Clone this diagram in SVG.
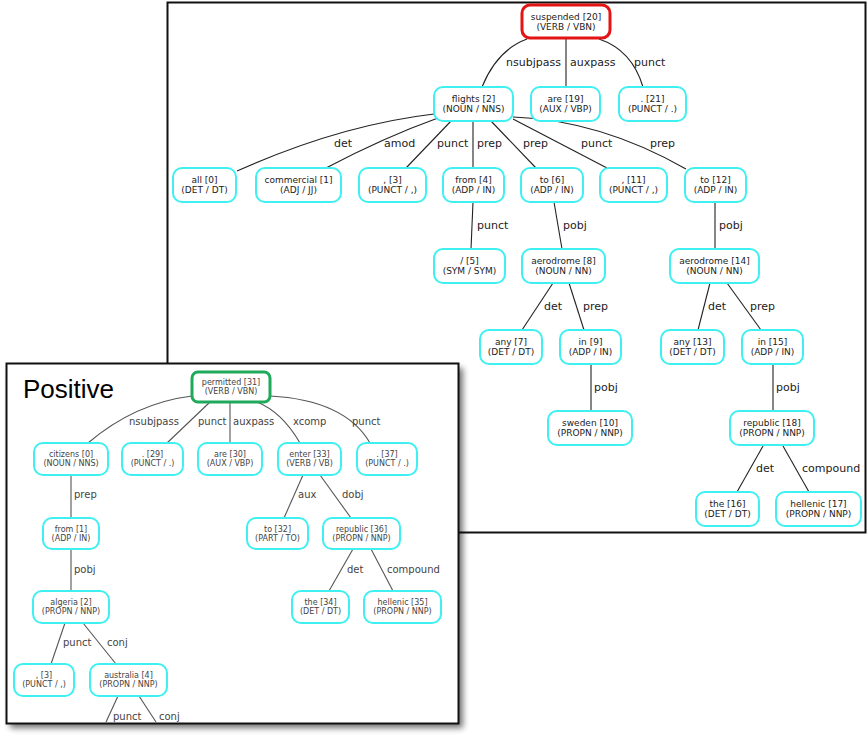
<svg xmlns="http://www.w3.org/2000/svg" width="868" height="741" viewBox="0 0 868 741">
<style>
.frame{fill:#fff;stroke:#111;stroke-width:2}
.n{fill:#fff;stroke:#3ef0f2;stroke-width:2}
.root-red{fill:#fff;stroke:#e41414;stroke-width:3}
.root-green{fill:#fff;stroke:#1eaa5a;stroke-width:3}
.e{fill:none;stroke:#222;stroke-width:1.1}
.es{fill:none;stroke:#555;stroke-width:1.1}
.t{font-family:"DejaVu Sans",Verdana,sans-serif;font-size:9px;fill:#222;text-anchor:middle}
.ts{font-family:"DejaVu Sans",Verdana,sans-serif;font-size:8px;fill:#444;text-anchor:middle}
.l{font-family:"DejaVu Sans",Verdana,sans-serif;font-size:11px;fill:#222}
.ls{font-family:"DejaVu Sans",Verdana,sans-serif;font-size:10px;fill:#444}
.title{font-family:"Liberation Sans",Arial,sans-serif;font-size:26px;fill:#000}
</style>
<defs>
<filter id="sh" x="-10%" y="-10%" width="120%" height="120%"><feGaussianBlur stdDeviation="3"/></filter>
</defs>

<g id="panel-main">
<rect class="frame" x="167.5" y="2.5" width="698" height="530"/>
<g id="connectors-main">
<path class="e" d="M527,39 Q497,50 482,87"/>
<path class="e" d="M566,39 L566,87"/>
<path class="e" d="M599,39 Q632,50 643,87"/>
<path class="e" d="M434,114 Q340,125 237,171"/>
<path class="e" d="M438,118 Q385,137 326,168"/>
<path class="e" d="M452,120 L406,168"/>
<path class="e" d="M473,121 L473,168"/>
<path class="e" d="M491,121 L536,168"/>
<path class="e" d="M513,119 L607,168"/>
<path class="e" d="M513,117 Q600,120 686,169"/>
<path class="e" d="M473,202 L471,249"/>
<path class="e" d="M554,202 L562,249"/>
<path class="e" d="M715,202 L715,249"/>
<path class="e" d="M553,283 L522,330"/>
<path class="e" d="M569,283 L584,330"/>
<path class="e" d="M591,364 L591,411"/>
<path class="e" d="M710,283 L698,330"/>
<path class="e" d="M727,283 L761,330"/>
<path class="e" d="M773,364 L773,411"/>
<path class="e" d="M763,446 L737,492"/>
<path class="e" d="M783,446 L809,492"/>
<text class="l" x="506" y="66">nsubjpass</text>
<text class="l" x="570" y="66">auxpass</text>
<text class="l" x="634" y="66">punct</text>
<text class="l" x="334" y="147">det</text>
<text class="l" x="384" y="147">amod</text>
<text class="l" x="437" y="147">punct</text>
<text class="l" x="477" y="147">prep</text>
<text class="l" x="523" y="147">prep</text>
<text class="l" x="581" y="147">punct</text>
<text class="l" x="650" y="147">prep</text>
<text class="l" x="477" y="229">punct</text>
<text class="l" x="563" y="229">pobj</text>
<text class="l" x="719" y="229">pobj</text>
<text class="l" x="544" y="310">det</text>
<text class="l" x="583" y="310">prep</text>
<text class="l" x="708" y="310">det</text>
<text class="l" x="750" y="310">prep</text>
<text class="l" x="594" y="391">pobj</text>
<text class="l" x="776" y="391">pobj</text>
<text class="l" x="756" y="472">det</text>
<text class="l" x="802" y="472">compound</text>
</g>

<g id="n20"><rect class="root-red" x="522" y="5" width="88" height="33" rx="8"/><text class="t" x="566" y="20">suspended [20]</text><text class="t" x="566" y="30">(VERB / VBN)</text></g>
<g id="n2"><rect class="n" x="434" y="87" width="79" height="34" rx="9"/><text class="t" x="473.5" y="101.5">flights [2]</text><text class="t" x="473.5" y="111.5">(NOUN / NNS)</text></g>
<g id="n19"><rect class="n" x="531" y="87" width="69" height="34" rx="9"/><text class="t" x="565.5" y="101.5">are [19]</text><text class="t" x="565.5" y="111.5">(AUX / VBP)</text></g>
<g id="n21"><rect class="n" x="619" y="87" width="67" height="34" rx="9"/><text class="t" x="652.5" y="101.5">. [21]</text><text class="t" x="652.5" y="111.5">(PUNCT / .)</text></g>
<g id="n0"><rect class="n" x="173" y="168" width="63" height="34" rx="9"/><text class="t" x="204.5" y="182.5">all [0]</text><text class="t" x="204.5" y="192.5">(DET / DT)</text></g>
<g id="n1"><rect class="n" x="256" y="168" width="85" height="34" rx="9"/><text class="t" x="298.5" y="182.5">commercial [1]</text><text class="t" x="298.5" y="192.5">(ADJ / JJ)</text></g>
<g id="n3"><rect class="n" x="359" y="168" width="67" height="34" rx="9"/><text class="t" x="392.5" y="182.5">, [3]</text><text class="t" x="392.5" y="192.5">(PUNCT / ,)</text></g>
<g id="n4"><rect class="n" x="443" y="168" width="61" height="34" rx="9"/><text class="t" x="473.5" y="182.5">from [4]</text><text class="t" x="473.5" y="192.5">(ADP / IN)</text></g>
<g id="n6"><rect class="n" x="521" y="168" width="62" height="34" rx="9"/><text class="t" x="552" y="182.5">to [6]</text><text class="t" x="552" y="192.5">(ADP / IN)</text></g>
<g id="n11"><rect class="n" x="600" y="168" width="67" height="34" rx="9"/><text class="t" x="633.5" y="182.5">, [11]</text><text class="t" x="633.5" y="192.5">(PUNCT / ,)</text></g>
<g id="n12"><rect class="n" x="685" y="168" width="61" height="34" rx="9"/><text class="t" x="715.5" y="182.5">to [12]</text><text class="t" x="715.5" y="192.5">(ADP / IN)</text></g>
<g id="n5"><rect class="n" x="434" y="249" width="71" height="34" rx="9"/><text class="t" x="469.5" y="263.5">/ [5]</text><text class="t" x="469.5" y="273.5">(SYM / SYM)</text></g>
<g id="n8"><rect class="n" x="522" y="249" width="83" height="34" rx="9"/><text class="t" x="563.5" y="263.5">aerodrome [8]</text><text class="t" x="563.5" y="273.5">(NOUN / NN)</text></g>
<g id="n14"><rect class="n" x="670" y="249" width="89" height="34" rx="9"/><text class="t" x="714.5" y="263.5">aerodrome [14]</text><text class="t" x="714.5" y="273.5">(NOUN / NN)</text></g>
<g id="n7"><rect class="n" x="480" y="330" width="62" height="34" rx="9"/><text class="t" x="511" y="344.5">any [7]</text><text class="t" x="511" y="354.5">(DET / DT)</text></g>
<g id="n9"><rect class="n" x="560" y="330" width="61" height="34" rx="9"/><text class="t" x="590.5" y="344.5">in [9]</text><text class="t" x="590.5" y="354.5">(ADP / IN)</text></g>
<g id="n13"><rect class="n" x="661" y="330" width="63" height="34" rx="9"/><text class="t" x="692.5" y="344.5">any [13]</text><text class="t" x="692.5" y="354.5">(DET / DT)</text></g>
<g id="n15"><rect class="n" x="742" y="330" width="61" height="34" rx="9"/><text class="t" x="772.5" y="344.5">in [15]</text><text class="t" x="772.5" y="354.5">(ADP / IN)</text></g>
<g id="n10"><rect class="n" x="548" y="411" width="84" height="34" rx="9"/><text class="t" x="590" y="425.5">sweden [10]</text><text class="t" x="590" y="435.5">(PROPN / NNP)</text></g>
<g id="n18"><rect class="n" x="730" y="411" width="84" height="34" rx="9"/><text class="t" x="772" y="425.5">republic [18]</text><text class="t" x="772" y="435.5">(PROPN / NNP)</text></g>
<g id="n16"><rect class="n" x="696" y="492" width="63" height="34" rx="9"/><text class="t" x="727.5" y="506.5">the [16]</text><text class="t" x="727.5" y="516.5">(DET / DT)</text></g>
<g id="n17"><rect class="n" x="776" y="492" width="85" height="34" rx="9"/><text class="t" x="818.5" y="506.5">hellenic [17]</text><text class="t" x="818.5" y="516.5">(PROPN / NNP)</text></g>
</g>

<g id="panel-positive">
<rect x="10" y="368" width="453" height="360" fill="#000" opacity="0.55" filter="url(#sh)"/>
<rect class="frame" x="6.5" y="363.5" width="452" height="360"/>
<text class="title" x="23" y="398">Positive</text>
<g id="connectors-positive">
<path class="es" d="M192,396 Q135,403 88,443"/>
<path class="es" d="M210,402 L167,443"/>
<path class="es" d="M230,402 L230,443"/>
<path class="es" d="M257,402 Q282,412 300,443"/>
<path class="es" d="M270,396 Q345,400 370,443"/>
<path class="es" d="M71,475 L71,518"/>
<path class="es" d="M71,549 L71,591"/>
<path class="es" d="M65,623 L51,664"/>
<path class="es" d="M83,623 L116,664"/>
<path class="es" d="M303,475 L284,518"/>
<path class="es" d="M320,475 L351,518"/>
<path class="es" d="M353,549 L329,591"/>
<path class="es" d="M371,549 L393,591"/>
<path class="es" d="M118,696 L106,722"/>
<path class="es" d="M139,696 L156,722"/>
<text class="ls" x="129" y="425">nsubjpass</text>
<text class="ls" x="198" y="425">punct</text>
<text class="ls" x="233" y="425">auxpass</text>
<text class="ls" x="293" y="425">xcomp</text>
<text class="ls" x="352" y="425">punct</text>
<text class="ls" x="74" y="498">prep</text>
<text class="ls" x="298" y="498">aux</text>
<text class="ls" x="342" y="498">dobj</text>
<text class="ls" x="74" y="573">pobj</text>
<text class="ls" x="347" y="573">det</text>
<text class="ls" x="387" y="573">compound</text>
<text class="ls" x="63" y="646">punct</text>
<text class="ls" x="107" y="646">conj</text>
<text class="ls" x="113" y="720">punct</text>
<text class="ls" x="159" y="720">conj</text>
</g>
<g id="p31"><rect class="root-green" x="192" y="372" width="78" height="30" rx="6"/><text class="ts" x="231" y="385">permitted [31]</text><text class="ts" x="231" y="394">(VERB / VBN)</text></g>
<g id="p0"><rect class="n" x="34" y="443" width="74" height="32" rx="9"/><text class="ts" x="71" y="457">citizens [0]</text><text class="ts" x="71" y="466">(NOUN / NNS)</text></g>
<g id="p29"><rect class="n" x="122" y="443" width="61" height="32" rx="9"/><text class="ts" x="152.5" y="457">. [29]</text><text class="ts" x="152.5" y="466">(PUNCT / .)</text></g>
<g id="p30"><rect class="n" x="198" y="443" width="64" height="32" rx="9"/><text class="ts" x="230" y="457">are [30]</text><text class="ts" x="230" y="466">(AUX / VBP)</text></g>
<g id="p33"><rect class="n" x="278" y="443" width="63" height="32" rx="9"/><text class="ts" x="309.5" y="457">enter [33]</text><text class="ts" x="309.5" y="466">(VERB / VB)</text></g>
<g id="p37"><rect class="n" x="357" y="443" width="60" height="32" rx="9"/><text class="ts" x="387" y="457">. [37]</text><text class="ts" x="387" y="466">(PUNCT / .)</text></g>
<g id="p1"><rect class="n" x="43" y="518" width="56" height="31" rx="9"/><text class="ts" x="71" y="531.5">from [1]</text><text class="ts" x="71" y="540.5">(ADP / IN)</text></g>
<g id="p32"><rect class="n" x="247" y="518" width="61" height="31" rx="9"/><text class="ts" x="277.5" y="531.5">to [32]</text><text class="ts" x="277.5" y="540.5">(PART / TO)</text></g>
<g id="p36"><rect class="n" x="323" y="518" width="77" height="31" rx="9"/><text class="ts" x="361.5" y="531.5">republic [36]</text><text class="ts" x="361.5" y="540.5">(PROPN / NNP)</text></g>
<g id="p2"><rect class="n" x="33" y="591" width="76" height="32" rx="9"/><text class="ts" x="71" y="605">algeria [2]</text><text class="ts" x="71" y="614">(PROPN / NNP)</text></g>
<g id="p34"><rect class="n" x="292" y="591" width="57" height="32" rx="9"/><text class="ts" x="320.5" y="605">the [34]</text><text class="ts" x="320.5" y="614">(DET / DT)</text></g>
<g id="p35"><rect class="n" x="364" y="591" width="77" height="32" rx="9"/><text class="ts" x="402.5" y="605">hellenic [35]</text><text class="ts" x="402.5" y="614">(PROPN / NNP)</text></g>
<g id="p3"><rect class="n" x="14" y="664" width="60" height="32" rx="9"/><text class="ts" x="44" y="678">, [3]</text><text class="ts" x="44" y="687">(PUNCT / ,)</text></g>
<g id="p4"><rect class="n" x="90" y="664" width="77" height="32" rx="9"/><text class="ts" x="128.5" y="678">australia [4]</text><text class="ts" x="128.5" y="687">(PROPN / NNP)</text></g>
</g>
</svg>
